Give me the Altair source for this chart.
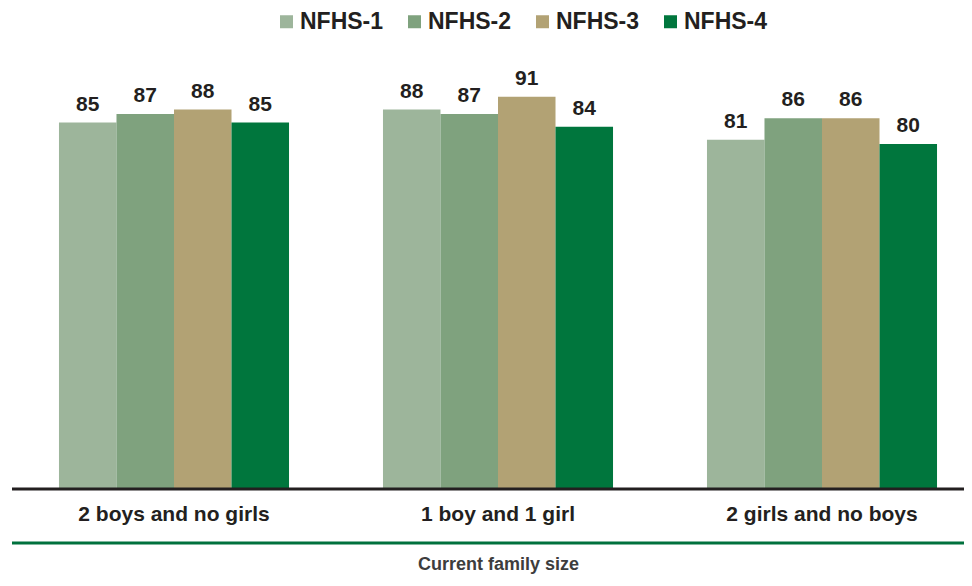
import altair as alt
import pandas as pd

categories = ["2 boys and no girls", "1 boy and 1 girl", "2 girls and no boys"]
surveys = ["NFHS-1", "NFHS-2", "NFHS-3", "NFHS-4"]
nfhs1 = [85, 88, 81]
nfhs2 = [87, 87, 86]
nfhs3 = [88, 91, 86]
nfhs4 = [85, 84, 80]
colors = ["#9db59b", "#7fa27e", "#b2a274", "#00763d"]

rows = []
for s, vals in zip(surveys, [nfhs1, nfhs2, nfhs3, nfhs4]):
    for c, v in zip(categories, vals):
        rows.append({"category": c, "survey": s, "value": v})
df = pd.DataFrame(rows)

x_enc = alt.X(
    "category:N",
    sort=categories,
    scale=alt.Scale(paddingInner=0.29, paddingOuter=0.145, range=[0, 972]),
    axis=alt.Axis(
        title="Current family size",
        labelAngle=0,
        labelFontSize=21,
        labelFontWeight="bold",
        labelColor="#231f20",
        labelFont="Liberation Sans",
        labelPadding=15,
        labelLimit=400,
        ticks=False,
        domain=False,
        titleFont="Liberation Sans",
        titleFontSize=18,
        titleFontWeight="bold",
        titleColor="#3d3d3d",
        titlePadding=31,
    ),
)
xoff = alt.XOffset("survey:N", sort=surveys, scale=alt.Scale(paddingInner=0, paddingOuter=0))
y_enc = alt.Y("value:Q", scale=alt.Scale(domain=[0, 100]), axis=None)

bars = alt.Chart(df).mark_bar().encode(
    x=x_enc,
    xOffset=xoff,
    y=y_enc,
    color=alt.Color(
        "survey:N",
        sort=surveys,
        scale=alt.Scale(domain=surveys, range=colors),
        legend=alt.Legend(
            title=None,
            orient="none",
            direction="horizontal",
            legendX=263,
            legendY=-48,
            symbolType="square",
            symbolSize=169,
            symbolStrokeWidth=0,
            symbolOpacity=1,
            labelFontSize=23,
            labelFontWeight="bold",
            labelFont="Liberation Sans",
            labelColor="#231f20",
            labelOffset=2,
            labelLimit=200,
            columnPadding=19,
        ),
    ),
)

labels = alt.Chart(df).mark_text(
    baseline="alphabetic",
    dy=-12,
    fontSize=21,
    fontWeight="bold",
    font="Liberation Sans",
    color="#231f20",
).encode(x=x_enc, xOffset=xoff, y=y_enc, text="value:Q")

line_df = pd.DataFrame({"a": [0]})
base_rule = alt.Chart(line_df).mark_rule(color="#231f20", strokeWidth=3).encode(
    x=alt.value(0), x2=alt.value(952), y=alt.value(431)
)
green_rule = alt.Chart(line_df).mark_rule(color="#00713d", strokeWidth=3).encode(
    x=alt.value(0), x2=alt.value(952), y=alt.value(485)
)

chart = (
    alt.layer(bars, labels, base_rule, green_rule)
    .properties(
        width=952,
        height=430,
        background="white",
        autosize=alt.AutoSizeParams(type="none"),
        padding={"left": 4, "top": 50, "right": 0, "bottom": 88},
    )
    .configure_view(strokeWidth=0, stroke="transparent")
)

chart.save("out.html", embed_options={"renderer": "svg", "actions": False})
